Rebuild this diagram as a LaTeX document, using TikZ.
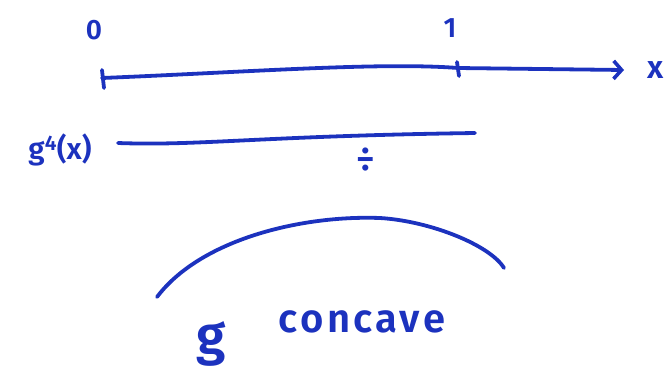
\documentclass[tikz,border=0pt]{standalone}
\usepackage{fontspec}
\setmainfont{Fira Sans}[BoldFont={Fira Sans SemiBold}]
\usetikzlibrary{arrows.meta}
\definecolor{ink}{RGB}{28,50,190}
\begin{document}
\begin{tikzpicture}[x=1pt,y=-1pt,
  pen/.style={ink, line width=3.8pt, line cap=round, line join=round},
  lbl/.style={text=ink, inner sep=0pt, font=\bfseries\fontsize{28}{30}\selectfont}]
\useasboundingbox (0,0) rectangle (671,376);
% axis
\coordinate (a0) at (102,78);
\coordinate (a1) at (624,70);
\draw[pen, -{Straight Barb[length=8pt,width=18pt,line width=3.6pt]}] (a0) .. controls (250,72) and (380,62) .. (458,68) -- (a1);
\draw[pen] (102,70) -- (104,88);
\draw[pen] (457,62) -- (459,76);
\node[lbl] (n0) at (94,30) {0};
\node[lbl] (n1) at (450,28) {1};
\node[lbl, font=\bfseries\fontsize{32}{34}\selectfont] (nx) at (656,70) {x};
% g4 line
\node[lbl, font=\bfseries\fontsize{30}{32}\selectfont] (g4) at (60,150) {g$^{\mathbf 4}$(x)};
\coordinate (l0) at (118,143);
\coordinate (l1) at (475,133);
\draw[pen] (l0) .. controls (200,146) and (260,136) .. (l1);
\node[lbl, font=\bfseries\fontsize{36}{38}\selectfont] (div) at (366,160) {÷};
% concave arc
\coordinate (c0) at (157,297);
\coordinate (c1) at (504,268);
\draw[pen] (c0) .. controls (200,240) and (300,215) .. (380,218) .. controls (430,221) and (490,245) .. (c1);
\node[lbl, font=\bfseries\fontsize{54}{56}\selectfont] (g) at (211,344) {g};
\node[lbl, font=\bfseries\fontsize{40}{42}\selectfont\addfontfeature{LetterSpace=8}] (cc) at (362,322) {concave};
\end{tikzpicture}
\end{document}
